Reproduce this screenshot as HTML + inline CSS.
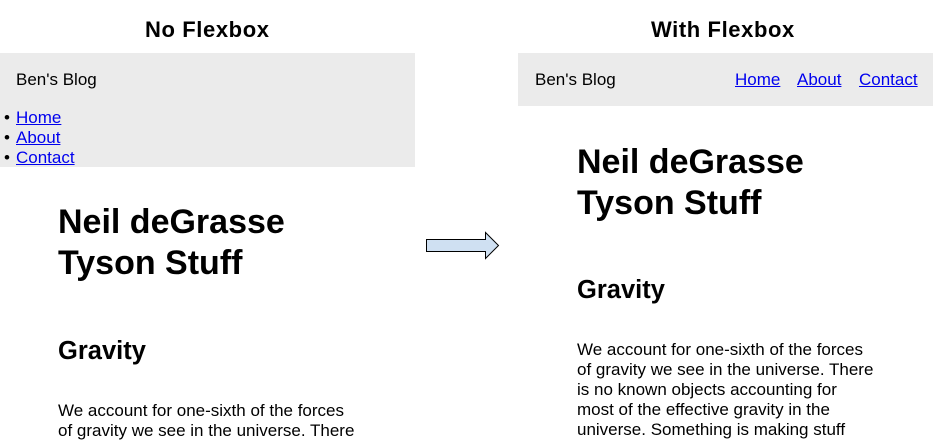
<!DOCTYPE html>
<html><head><style>
body{margin:0;width:934px;height:439px;overflow:hidden;background:#fff;position:relative;font-family:"Liberation Sans",Arial,sans-serif;color:#000}
.a{position:absolute;white-space:nowrap}
.t{font-weight:bold;font-size:22px;letter-spacing:0.6px}
.g{position:absolute;background:#ebebeb}
a{color:#0000ee;text-decoration:underline}
.h1{font-weight:bold;font-size:34px;line-height:41px}
.h2{font-weight:bold;font-size:25.5px;line-height:28px}
.p{font-size:17px;line-height:20px}
.n{font-size:17px;line-height:20px}
</style></head><body>
<div class="a t" style="left:145px;top:17px">No Flexbox</div>
<div class="a t" style="left:651px;top:17px">With Flexbox</div>

<div class="g" style="left:0;top:53px;width:415px;height:114px"></div>
<div class="a n" style="left:16px;top:70px">Ben's Blog</div>
<div class="a n" style="left:4px;top:108px">•<br>•<br>•</div>
<div class="a n" style="left:16px;top:108px"><a>Home</a><br><a>About</a><br><a>Contact</a></div>
<div class="a h1" style="left:58px;top:202px">Neil deGrasse<br>Tyson Stuff</div>
<div class="a h2" style="left:58px;top:337px">Gravity</div>
<div class="a p" style="left:58px;top:401px">We account for one-sixth of the forces<br>of gravity we see in the universe. There</div>

<svg class="a" style="left:420px;top:228px" width="84" height="36"><polygon points="6.5,11.5 65.5,11.5 65.5,4.5 78.5,17.5 65.5,30.5 65.5,23.5 6.5,23.5" fill="#cfe0f2" stroke="#000" stroke-width="1"/></svg>

<div class="g" style="left:518px;top:53px;width:415px;height:53px"></div>
<div class="a n" style="left:535px;top:70px">Ben's Blog</div>
<div class="a n" style="left:735px;top:70px"><a>Home</a></div>
<div class="a n" style="left:797px;top:70px"><a>About</a></div>
<div class="a n" style="left:859px;top:70px"><a>Contact</a></div>
<div class="a h1" style="left:577px;top:142px">Neil deGrasse<br>Tyson Stuff</div>
<div class="a h2" style="left:577px;top:276px">Gravity</div>
<div class="a p" style="left:577px;top:340px">We account for one-sixth of the forces<br>of gravity we see in the universe. There<br>is no known objects accounting for<br>most of the effective gravity in the<br>universe. Something is making stuff</div>
</body></html>
